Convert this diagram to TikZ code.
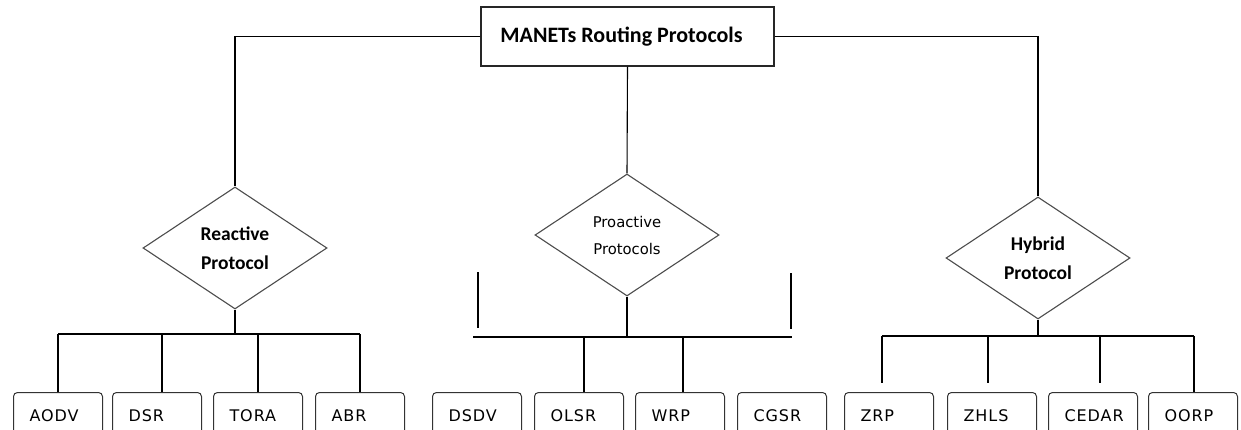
\documentclass[tikz,border=0pt]{standalone}
\usepackage{fontspec}
\setmainfont{Carlito}
\newfontfamily\lblfont{DejaVu Sans}
\newfontfamily\leaffont[LetterSpace=6]{DejaVu Sans}
\usetikzlibrary{shapes.geometric}
\tikzset{
  conn/.style={draw=black, line width=1.1pt},
  titlebox/.style={draw=black!85, line width=1.2pt, minimum width=293, minimum height=59, inner sep=0pt,
    font=\bfseries\fontsize{22}{26}\selectfont},
  cat/.style={diamond, draw=black!70, line width=1.1pt, minimum width=184, minimum height=122, inner sep=0pt, align=center},
  catbold/.style={cat, font=\bfseries\fontsize{19.5}{29}\selectfont},
  catreg/.style={cat, font=\lblfont\fontsize{14.8}{27}\selectfont},
  leaf/.style={draw=black!80, line width=1pt, rounded corners=4pt, anchor=north west,
    minimum height=46, text width=57, inner xsep=16pt, align=left, text depth=0pt,
    font=\leaffont\fontsize{16}{18}\selectfont},
}
\begin{document}
\begin{tikzpicture}[x=1pt,y=-1pt]
\useasboundingbox (0,0) rectangle (1241,430);
\clip (0,0) rectangle (1241,430);
% title
\node[titlebox] (main) at (627.5,36.5) {\hspace*{-12pt}MANETs Routing Protocols};
% categories
\node[catbold] (rd) at (235,248) {Reactive\\Protocol};
\node[catreg]  (pd) at (627,235) {Proactive\\Protocols};
\node[catbold] (hd) at (1038,258) {Hybrid\\Protocol};
% top connectors
\draw[conn] (main.west) -- (main.west -| rd.north) -- (rd.north);
\draw[conn] (main.east) -- (main.east -| hd.north) -- (hd.north);
\draw[conn] (main.south) -- (pd.north);
% leaves
\node[leaf] (aodv) at (13,392) {AODV};
\node[leaf] (dsr) at (112,392) {DSR};
\node[leaf] (tora) at (213,392) {TORA};
\node[leaf] (abr) at (315,392) {ABR};
\node[leaf] (dsdv) at (432,392) {DSDV};
\node[leaf] (olsr) at (534,392) {OLSR};
\node[leaf] (wrp) at (635,392) {WRP};
\node[leaf] (cgsr) at (737,392) {CGSR};
\node[leaf] (zrp) at (844,392) {ZRP};
\node[leaf] (zhls) at (947,392) {ZHLS};
\node[leaf] (cedar) at (1048,392) {CEDAR};
\node[leaf] (oorp) at (1148,392) {OORP};
% buses
\coordinate (rl) at (58,334);   \coordinate (rr) at (360,334);
\coordinate (pl) at (473,337);  \coordinate (pr) at (792,337);
\coordinate (hl) at (882,336);  \coordinate (hr) at (1194,336);
\coordinate (rb) at (rd.south |- rl);
\coordinate (pb) at (pd.south |- pl);
\coordinate (hb) at (hd.south |- hl);
% reactive
\draw[conn] (rd.south) -- (rb);
\draw[conn] (rl) -- (rr);
\draw[conn] (rl) -- (rl |- aodv.north);
\draw[conn] (162,334) -- (162,392);
\draw[conn] (258,334) -- (258,392);
\draw[conn] (rr) -- (rr |- abr.north);
% proactive
\draw[conn] (pd.south) -- (pb);
\draw[conn] (pl) -- (pr);
\draw[conn] (584,337) -- (584,392);
\draw[conn] (683,337) -- (683,392);
\coordinate (pv1a) at (478,272); \coordinate (pv1b) at (478,328);
\coordinate (pv2a) at (791,273); \coordinate (pv2b) at (791,329);
\draw[conn] (pv1a) -- (pv1b);
\draw[conn] (pv2a) -- (pv2b);
% hybrid
\draw[conn] (hd.south) -- (hb);
\draw[conn] (hl) -- (hr);
\draw[conn] (hl) -- (882,383);
\draw[conn] (988,336) -- (988,383);
\draw[conn] (1100,336) -- (1100,383);
\draw[conn] (hr) -- (hr |- oorp.north);
\end{tikzpicture}
\end{document}
